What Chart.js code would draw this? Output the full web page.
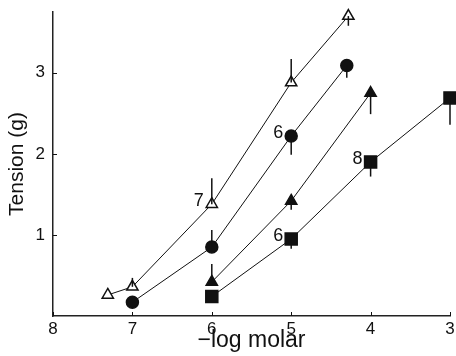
<!DOCTYPE html>
<html>
<head>
<meta charset="UTF-8">
<script src="https://cdn.jsdelivr.net/npm/chart.js"></script>
<style>
    body { margin: 0; background: #fff; }
    #wrap { width: 456px; height: 356px; }
</style>
</head>
<body>
<div id="wrap"><canvas id="grafico" width="456" height="356"></canvas></div>
<script>
    // valores
    const xTicks = [3, 4, 5, 6, 7, 8];
    const yTicks = [1, 2, 3];

    const trianguloAbertoX = [7.31, 7.0, 6.0, 5.0, 4.28];
    const trianguloAbertoY = [0.26, 0.36, 1.38, 2.88, 3.70];
    const trianguloAbertoErro = [null, 0.47, 1.70, 3.17, 3.58];

    const circuloX = [7.0, 6.0, 5.0, 4.3];
    const circuloY = [0.17, 0.85, 2.22, 3.09];
    const circuloErro = [null, 1.06, 1.99, 2.94];

    const trianguloX = [6.0, 5.0, 4.0];
    const trianguloY = [0.42, 1.42, 2.75];
    const trianguloErro = [0.64, 1.31, 2.49];

    const quadradoX = [6.0, 5.0, 4.0, 3.0];
    const quadradoY = [0.24, 0.95, 1.90, 2.69];
    const quadradoErro = [null, 0.83, 1.72, 2.36];

    // numeros escritos ao lado de alguns pontos
    const rotulosAberto = [null, null, '7', null, null];
    const rotulosCirculo = [null, null, '6', null];
    const rotulosTriangulo = [null, null, null];
    const rotulosQuadrado = [null, '6', '8', null];

    const FONTE = '"Liberation Sans", Arial, sans-serif';

    function pontos(xs, ys) {
        return xs.map((x, i) => ({ x: x, y: ys[i] }));
    }

    function serie(xs, ys, erros, rotulos, estilo, raio, fundo) {
        return {
            data: pontos(xs, ys),
            erros: erros,
            rotulos: rotulos,
            borderColor: '#111',
            borderWidth: 1,
            pointStyle: estilo,
            pointRadius: raio,
            pointBackgroundColor: fundo,
            pointBorderColor: '#111',
            pointBorderWidth: 1.5,
            showLine: true,
            clip: false,
            tension: 0
        };
    }

    const extras = {
        id: 'extras',
        afterDatasetsDraw(chart) {
            const ctx = chart.ctx;
            const sx = chart.scales.x;
            const sy = chart.scales.y;
            ctx.save();
            ctx.strokeStyle = '#111';
            ctx.fillStyle = '#111';

            // marcas de escala para dentro
            ctx.lineWidth = 1;
            xTicks.forEach(v => {
                const px = Math.round(sx.getPixelForValue(v)) + 0.5;
                ctx.beginPath();
                ctx.moveTo(px, sy.bottom);
                ctx.lineTo(px, sy.bottom - 4);
                ctx.stroke();
            });
            yTicks.forEach(v => {
                const py = Math.round(sy.getPixelForValue(v)) + 0.5;
                ctx.beginPath();
                ctx.moveTo(sx.left, py);
                ctx.lineTo(sx.left + 4, py);
                ctx.stroke();
            });

            chart.data.datasets.forEach(ds => {
                ds.data.forEach((p, i) => {
                    const px = sx.getPixelForValue(p.x);
                    const py = sy.getPixelForValue(p.y);
                    const e = ds.erros[i];
                    if (e !== null) {
                        ctx.lineWidth = 1.5;
                        ctx.beginPath();
                        ctx.moveTo(px, py);
                        ctx.lineTo(px, sy.getPixelForValue(e));
                        ctx.stroke();
                    }
                    const r = ds.rotulos[i];
                    if (r) {
                        ctx.font = '18px ' + FONTE;
                        ctx.textAlign = 'right';
                        ctx.textBaseline = 'middle';
                        ctx.fillText(r, px - 8, py - 3);
                    }
                });
            });
            ctx.restore();
        }
    };

    const grafico = new Chart(document.getElementById('grafico'), {
        type: 'scatter',
        data: {
            datasets: [
                serie(trianguloAbertoX, trianguloAbertoY, trianguloAbertoErro, rotulosAberto, 'triangle', 6.5, '#fff'),
                serie(circuloX, circuloY, circuloErro, rotulosCirculo, 'circle', 6, '#111'),
                serie(trianguloX, trianguloY, trianguloErro, rotulosTriangulo, 'triangle', 6.5, '#111'),
                serie(quadradoX, quadradoY, quadradoErro, rotulosQuadrado, 'rect', 8.5, '#111')
            ]
        },
        options: {
            responsive: false,
            animation: false,
            layout: { autoPadding: false, padding: { top: 12, right: 6, left: 0, bottom: 0 } },
            plugins: {
                legend: { display: false },
                tooltip: { enabled: false }
            },
            scales: {
                x: {
                    type: 'linear',
                    reverse: true,
                    min: 3,
                    max: 8,
                    afterBuildTicks: s => { s.ticks = xTicks.map(v => ({ value: v })); },
                    afterFit: s => { s.height = 40; s.paddingLeft = 0; s.paddingRight = 0; },
                    grid: { display: false, drawTicks: false },
                    border: { display: true, color: '#222', width: 1.5 },
                    ticks: {
                        color: '#111',
                        padding: 3,
                        maxRotation: 0,
                        font: { family: FONTE, size: 17 }
                    },
                    title: {
                        display: true,
                        text: '\u2212log molar',
                        color: '#111',
                        padding: { top: 2, bottom: 2 },
                        font: { family: FONTE, size: 23 }
                    }
                },
                y: {
                    type: 'linear',
                    min: 0,
                    max: 3.75,
                    afterBuildTicks: s => { s.ticks = yTicks.map(v => ({ value: v })); },
                    afterFit: s => { s.width = 53; s.paddingTop = 0; s.paddingBottom = 0; },
                    grid: { display: false, drawTicks: false },
                    border: { display: true, color: '#222', width: 1.5 },
                    ticks: {
                        color: '#111',
                        padding: 8,
                        font: { family: FONTE, size: 17 }
                    },
                    title: {
                        display: true,
                        text: 'Tension (g)',
                        color: '#111',
                        padding: { top: 5, bottom: 5 },
                        font: { family: FONTE, size: 21 }
                    }
                }
            }
        },
        plugins: [extras]
    });
</script>
</body>
</html>
